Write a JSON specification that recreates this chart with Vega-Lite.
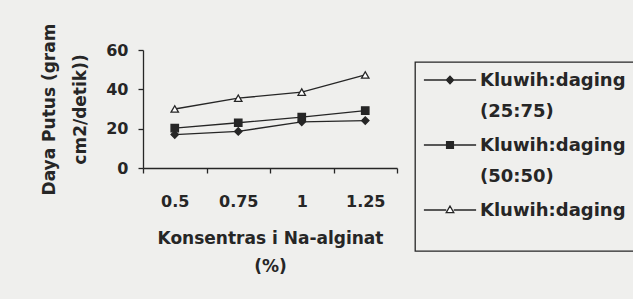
{
  "$schema": "https://vega.github.io/schema/vega-lite/v6.json",
  "autosize": {"type": "none"},
  "width": 254,
  "height": 118,
  "padding": {"left": 143, "top": 50, "right": 236, "bottom": 131},
  "background": "#efefed",
  "config": {
    "view": {"stroke": null},
    "font": "DejaVu Sans",
    "axis": {"labelFont": "DejaVu Sans", "titleFont": "DejaVu Sans", "labelFontWeight": "bold", "titleFontWeight": "bold", "labelFontSize": 16, "titleFontSize": 17, "labelColor": "#262626", "titleColor": "#262626", "domainColor": "#262626", "tickColor": "#262626", "domainWidth": 1.3, "tickWidth": 1.3, "grid": false},
    "legend": {"title": null, "orient": "none", "legendX": 272, "legendY": 12, "strokeColor": "#262626", "strokeWidth": 1.3, "padding": 8, "symbolOpacity": 1, "symbolStrokeWidth": 1.3, "symbolStrokeColor": "#262626", "symbolSize": 324, "symbolOffset": 17, "labelOffset": 20, "labelFont": "DejaVu Sans", "labelFontWeight": "bold", "labelFontSize": 18, "labelColor": "#262626", "labelLimit": 400, "labelBaseline": "top", "rowPadding": 14}
  },
  "data": {"values": [
    {"conc": "0.5", "series": "Kluwih:daging (25:75)", "value": 17.0},
    {"conc": "0.75", "series": "Kluwih:daging (25:75)", "value": 18.6},
    {"conc": "1", "series": "Kluwih:daging (25:75)", "value": 23.5},
    {"conc": "1.25", "series": "Kluwih:daging (25:75)", "value": 24.1},
    {"conc": "0.5", "series": "Kluwih:daging (50:50)", "value": 20.3},
    {"conc": "0.75", "series": "Kluwih:daging (50:50)", "value": 23.0},
    {"conc": "1", "series": "Kluwih:daging (50:50)", "value": 25.9},
    {"conc": "1.25", "series": "Kluwih:daging (50:50)", "value": 29.2},
    {"conc": "0.5", "series": "Kluwih:daging", "value": 30.0},
    {"conc": "0.75", "series": "Kluwih:daging", "value": 35.5},
    {"conc": "1", "series": "Kluwih:daging", "value": 38.6},
    {"conc": "1.25", "series": "Kluwih:daging", "value": 47.3}
  ]},
  "encoding": {
    "x": {"field": "conc", "type": "ordinal", "sort": ["0.5", "0.75", "1", "1.25"],
      "scale": {"type": "band", "paddingInner": 0, "paddingOuter": 0},
      "axis": {"labelAngle": 0, "tickBand": "extent", "tickSize": 5, "labelPadding": 20, "title": ["Konsentras i Na-alginat", "(%)"], "titlePadding": 21, "titleLineHeight": 28.5}},
    "y": {"field": "value", "type": "quantitative", "scale": {"domain": [0, 60]},
      "axis": {"values": [0, 20, 40, 60], "tickSize": 5, "labelPadding": 10, "title": ["Daya Putus (gram", "cm2/detik))"], "titleLineHeight": 31, "titlePadding": 16}}
  },
  "layer": [
    {"mark": {"type": "line", "color": "#262626", "strokeWidth": 1.3}, "encoding": {"detail": {"field": "series"}}},
    {"mark": {"type": "point", "stroke": "#262626", "strokeWidth": 1.3, "opacity": 1, "size": 55},
      "encoding": {
        "shape": {"field": "series", "scale": {"domain": ["Kluwih:daging (25:75)", "Kluwih:daging (50:50)", "Kluwih:daging"], "range": ["diamond", "square", "triangle-up"]}, "legend": null},
        "fill": {"field": "series", "scale": {"domain": ["Kluwih:daging (25:75)", "Kluwih:daging (50:50)", "Kluwih:daging"], "range": ["#262626", "#262626", "#ffffff"]}, "legend": null}
      }},
    {"mark": {"type": "point", "stroke": "#262626", "strokeWidth": 1.3, "opacity": 0},
      "encoding": {
        "shape": {"field": "series", "scale": {"domain": ["Kluwih:daging (25:75)", "Kluwih:daging (50:50)", "Kluwih:daging"], "range": ["M-2.9,0H-0.4M0.4,0H2.9M-0.4,0L0,-0.42L0.4,0L0,0.42Z", "M-2.9,0H-0.38M0.38,0H2.9M-0.38,-0.38H0.38V0.38H-0.38Z", "M-2.9,0H-0.42M0.42,0H2.9M0,-0.44L0.42,0.3H-0.42Z"]},
          "legend": {"labelExpr": "datum.value == 'Kluwih:daging' ? ['Kluwih:daging   ', ''] : [split(datum.label, ' ')[0] + '   ', split(datum.label, ' ')[1]]", "encode": {"labels": {"update": {"dy": {"value": -8}, "lineHeight": {"signal": "datum.value == 'Kluwih:daging' ? 23 : 31"}}}}}},
        "fill": {"field": "series", "scale": {"domain": ["Kluwih:daging (25:75)", "Kluwih:daging (50:50)", "Kluwih:daging"], "range": ["#262626", "#262626", "#ffffff"]},
          "legend": {"labelExpr": "datum.value == 'Kluwih:daging' ? ['Kluwih:daging   ', ''] : [split(datum.label, ' ')[0] + '   ', split(datum.label, ' ')[1]]", "encode": {"labels": {"update": {"dy": {"value": -8}, "lineHeight": {"signal": "datum.value == 'Kluwih:daging' ? 23 : 31"}}}}}}
      }}
  ],
  "resolve": {"scale": {"shape": "independent", "fill": "independent"}}
}
